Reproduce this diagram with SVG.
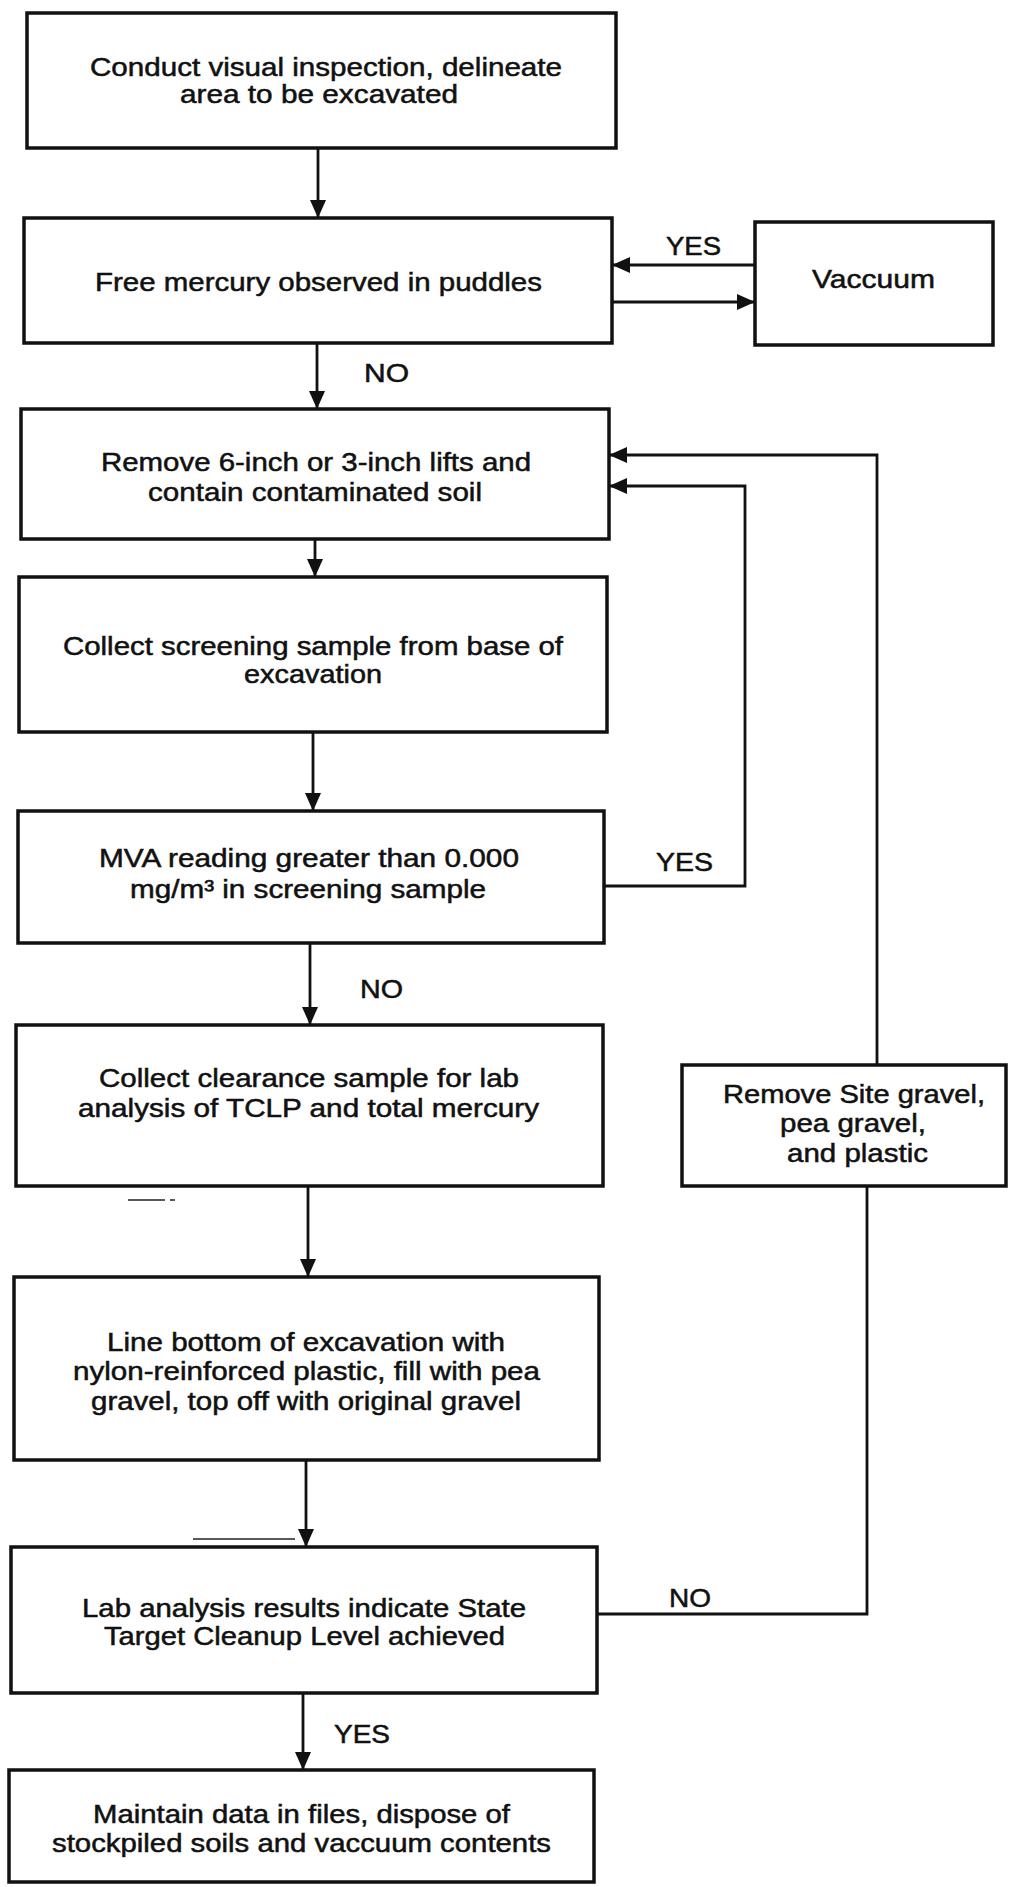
<svg xmlns="http://www.w3.org/2000/svg" width="1018" height="1887" viewBox="0 0 1018 1887">
<style>
.box{fill:#fff;stroke:#111;stroke-width:3.5}
.t{font-family:"Liberation Sans",Arial,sans-serif;font-size:25px;fill:#111;stroke:#111;stroke-width:0.5}
.c{fill:none;stroke:#111;stroke-width:2.8}
.art{fill:none;stroke:#222;stroke-width:1.5}
</style>
<defs>
<marker id="ah" markerUnits="userSpaceOnUse" markerWidth="18" markerHeight="16" refX="18" refY="8" orient="auto">
<path d="M0,0 L18,8 L0,16 Z" fill="#111"/>
</marker>
</defs>
<rect width="1018" height="1887" fill="#fff"/>
<g id="connectors">
<path class="c" d="M318,148 V218" marker-end="url(#ah)"/>
<path class="c" d="M755,265 H612" marker-end="url(#ah)"/>
<path class="c" d="M612,302 H755" marker-end="url(#ah)"/>
<path class="c" d="M317,343 V409" marker-end="url(#ah)"/>
<path class="c" d="M315,539 V577" marker-end="url(#ah)"/>
<path class="c" d="M313,732 V811" marker-end="url(#ah)"/>
<path class="c" d="M604,886 H745 V486 H609" marker-end="url(#ah)"/>
<path class="c" d="M310,943 V1025" marker-end="url(#ah)"/>
<path class="c" d="M877,1065 V455 H609" marker-end="url(#ah)"/>
<path class="c" d="M308,1186 V1277" marker-end="url(#ah)"/>
<path class="c" d="M306,1460 V1547" marker-end="url(#ah)"/>
<path class="c" d="M597,1614 H867 V1186"/>
<path class="c" d="M303,1693 V1770" marker-end="url(#ah)"/>
<text class="t" x="666" y="255" textLength="55" lengthAdjust="spacingAndGlyphs">YES</text>
<text class="t" x="364" y="382" textLength="45" lengthAdjust="spacingAndGlyphs">NO</text>
<text class="t" x="656" y="871" textLength="57" lengthAdjust="spacingAndGlyphs">YES</text>
<text class="t" x="360" y="998" textLength="43" lengthAdjust="spacingAndGlyphs">NO</text>
<text class="t" x="669" y="1607" textLength="42" lengthAdjust="spacingAndGlyphs">NO</text>
<text class="t" x="334" y="1743" textLength="56" lengthAdjust="spacingAndGlyphs">YES</text>
</g>
<g id="n1">
<rect class="box" x="27" y="13" width="589" height="135"/>
<text class="t" x="90" y="76" textLength="472" lengthAdjust="spacingAndGlyphs">Conduct visual inspection, delineate</text>
<text class="t" x="180" y="103" textLength="278" lengthAdjust="spacingAndGlyphs">area to be excavated</text>
</g>
<g id="n2">
<rect class="box" x="24" y="218" width="588" height="125"/>
<text class="t" x="95" y="291" textLength="447" lengthAdjust="spacingAndGlyphs">Free mercury observed in puddles</text>
</g>
<g id="n_vac">
<rect class="box" x="755" y="222" width="238" height="123"/>
<text class="t" x="812" y="288" textLength="123" lengthAdjust="spacingAndGlyphs">Vaccuum</text>
</g>
<g id="n3">
<rect class="box" x="21" y="409" width="588" height="130"/>
<text class="t" x="101" y="471" textLength="430" lengthAdjust="spacingAndGlyphs">Remove 6-inch or 3-inch lifts and</text>
<text class="t" x="148" y="501" textLength="334" lengthAdjust="spacingAndGlyphs">contain contaminated soil</text>
</g>
<g id="n4">
<rect class="box" x="19" y="577" width="588" height="155"/>
<text class="t" x="63" y="655" textLength="500" lengthAdjust="spacingAndGlyphs">Collect screening sample from base of</text>
<text class="t" x="244" y="683" textLength="138" lengthAdjust="spacingAndGlyphs">excavation</text>
</g>
<g id="n5">
<rect class="box" x="18" y="811" width="586" height="132"/>
<text class="t" x="99" y="867" textLength="420" lengthAdjust="spacingAndGlyphs">MVA reading greater than 0.000</text>
<text class="t" x="130" y="898" textLength="356" lengthAdjust="spacingAndGlyphs">mg/m³ in screening sample</text>
</g>
<g id="n6">
<rect class="box" x="16" y="1025" width="587" height="161"/>
<text class="t" x="99" y="1087" textLength="420" lengthAdjust="spacingAndGlyphs">Collect clearance sample for lab</text>
<text class="t" x="78" y="1117" textLength="461" lengthAdjust="spacingAndGlyphs">analysis of TCLP and total mercury</text>
</g>
<g id="n_side">
<rect class="box" x="682" y="1065" width="324" height="121"/>
<text class="t" x="723" y="1103" textLength="262" lengthAdjust="spacingAndGlyphs">Remove Site gravel,</text>
<text class="t" x="780" y="1132" textLength="146" lengthAdjust="spacingAndGlyphs">pea gravel,</text>
<text class="t" x="787" y="1162" textLength="141" lengthAdjust="spacingAndGlyphs">and plastic</text>
</g>
<g id="n7">
<rect class="box" x="14" y="1277" width="585" height="183"/>
<text class="t" x="107" y="1351" textLength="398" lengthAdjust="spacingAndGlyphs">Line bottom of excavation with</text>
<text class="t" x="73" y="1380" textLength="467" lengthAdjust="spacingAndGlyphs">nylon-reinforced plastic, fill with pea</text>
<text class="t" x="91" y="1410" textLength="430" lengthAdjust="spacingAndGlyphs">gravel, top off with original gravel</text>
</g>
<g id="n8">
<rect class="box" x="11" y="1547" width="586" height="146"/>
<text class="t" x="82" y="1617" textLength="444" lengthAdjust="spacingAndGlyphs">Lab analysis results indicate State</text>
<text class="t" x="104" y="1645" textLength="401" lengthAdjust="spacingAndGlyphs">Target Cleanup Level achieved</text>
</g>
<g id="n9">
<rect class="box" x="9" y="1770" width="585" height="112"/>
<text class="t" x="93" y="1823" textLength="417" lengthAdjust="spacingAndGlyphs">Maintain data in files, dispose of</text>
<text class="t" x="52" y="1852" textLength="499" lengthAdjust="spacingAndGlyphs">stockpiled soils and vaccuum contents</text>
</g>
<g id="artifacts">
<path class="art" d="M128,1200 H165 M170,1200 H175"/>
<path class="art" d="M193,1539 H295"/>
</g>
</svg>
